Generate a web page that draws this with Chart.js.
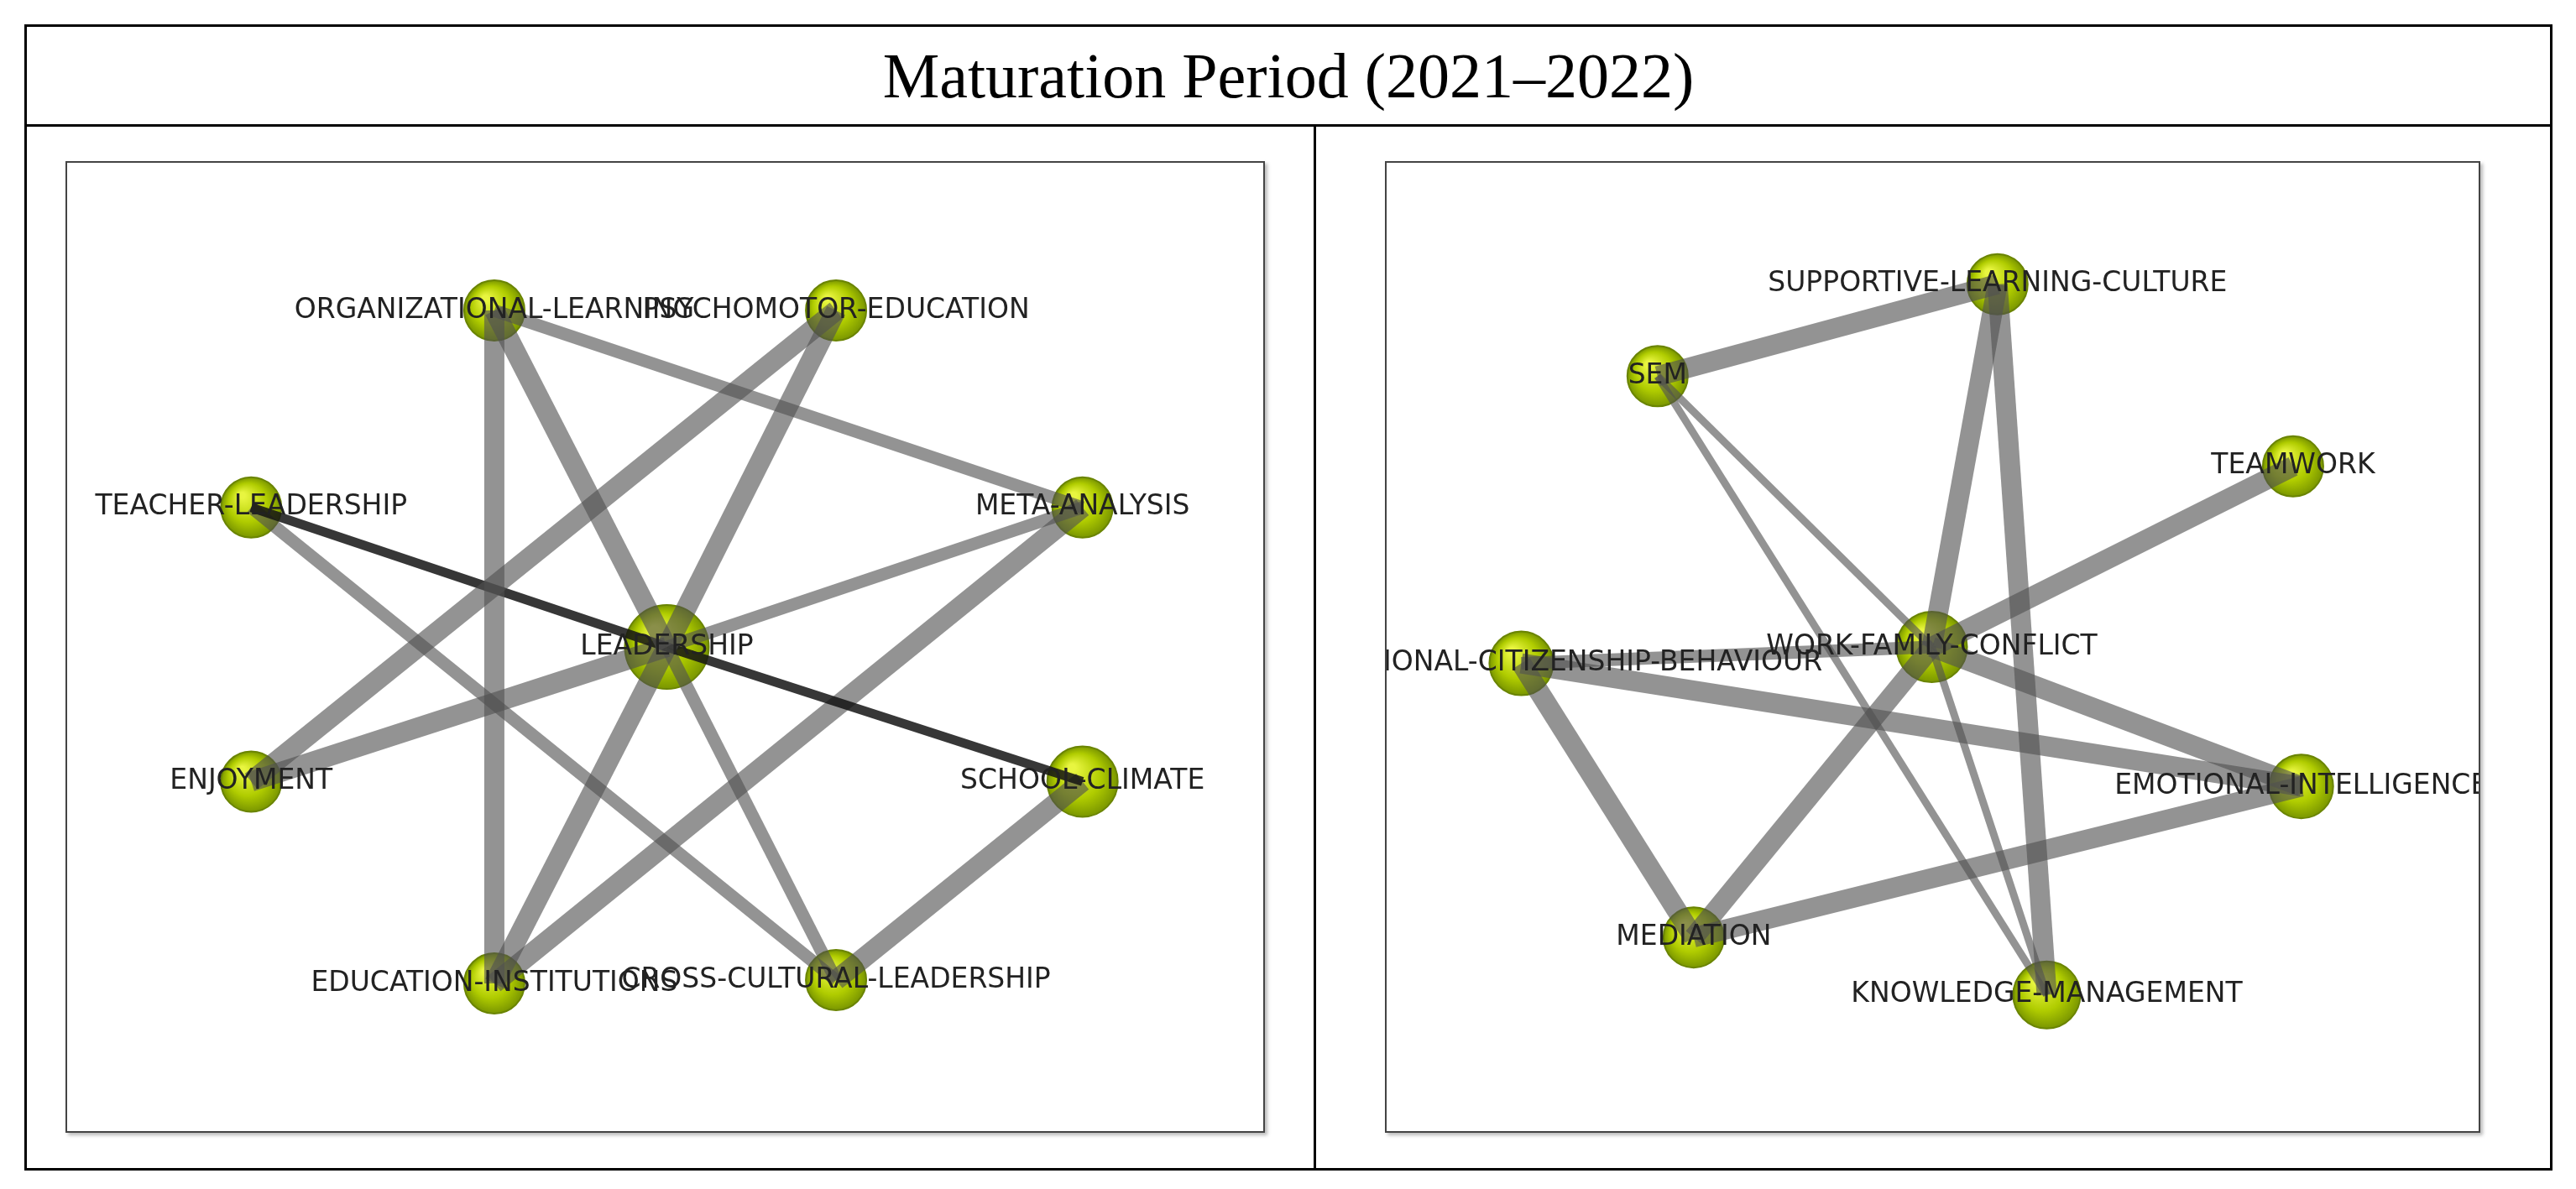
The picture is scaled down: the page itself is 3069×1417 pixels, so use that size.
<!DOCTYPE html>
<html>
<head>
<meta charset="utf-8">
<script src="https://cdn.jsdelivr.net/npm/chart.js@4.4.0/dist/chart.umd.min.js"></script>
<style>
  body { margin:0; background:#fff; width:3069px; height:1417px; position:relative; overflow:hidden; }
  #outer { position:absolute; left:29px; top:29px; width:3006px; height:1360px; border:3px solid #000; }
  #title { position:absolute; left:0; top:0; width:100%; height:116px; border-bottom:3px solid #000;
           font-family:"Liberation Serif", serif; font-size:76px; text-align:center; line-height:116px; }
  #divider { position:absolute; left:1533px; top:119px; width:3px; height:1241px; background:#000; }
  .frame { position:absolute; border:2px solid #444; box-shadow:3px 3px 4px #bbb; background:#fff; }
</style>
</head>
<body>
<div id="outer"><div id="title">Maturation Period (2021–2022)</div><div id="divider"></div></div>
<div class="frame" style="left:78px;top:192px;width:1425px;height:1154px"><canvas id="left" width="1425" height="1154"></canvas></div>
<div class="frame" style="left:1650px;top:192px;width:1301px;height:1154px"><canvas id="right" width="1301" height="1154"></canvas></div>
<script>
// left network: node names, positions, sizes
const leftNodes = ["ORGANIZATIONAL-LEARNING","PSYCHOMOTOR-EDUCATION","TEACHER-LEADERSHIP","META-ANALYSIS","LEADERSHIP","ENJOYMENT","SCHOOL-CLIMATE","EDUCATION-INSTITUTIONS","CROSS-CULTURAL-LEADERSHIP"];
const leftX = [300,508,152,658,405,152,658,300,508];
const leftY = [188,188,308,308,393,475,475,598,596];
const leftR = [36,36,36,36,50,36,42,36,36];
// edges: [from, to, weight(1 thin,2 medium,3 thick), dark]
const leftEdges = [[0,7,3,0],[0,4,3,0],[0,3,2,0],[1,5,3,0],[1,4,3,0],[4,7,3,0],[2,4,1,1],[4,6,1,1],[2,8,2,0],[5,4,3,0],[3,4,2,0],[3,7,3,0],[4,8,2,0],[6,8,3,0]];

const rightNodes = ["SUPPORTIVE-LEARNING-CULTURE","SEM","TEAMWORK","WORK-FAMILY-CONFLICT","ORGANIZATIONAL-CITIZENSHIP-BEHAVIOUR","EMOTIONAL-INTELLIGENCE","MEDIATION","KNOWLEDGE-MANAGEMENT"];
const rightX = [1215,1008,1395,1175,925,1400,1030,1245];
const rightY = [172,228,283,393,403,478,570,605];
const rightR = [36,36,36,42,38,38,36,40];
const rightEdges = [[1,0,3,0],[1,3,1,0],[1,7,1,0],[0,3,3,0],[0,7,3,0],[2,3,3,0],[3,4,2,0],[3,5,3,0],[3,6,3,0],[3,7,1,0],[4,5,3,0],[4,6,3,0],[6,5,3,0]];

const edgeWidth = {1: 9, 2: 15, 3: 24};

const labelPlugin = {
  id: "labels",
  afterDatasetsDraw(chart, args, opts) {
    const ctx = chart.ctx, xs = chart.scales.x, ys = chart.scales.y;
    ctx.save();
    ctx.beginPath();
    ctx.rect(0, 0, chart.width, chart.height);
    ctx.clip();
    ctx.font = "33px 'DejaVu Sans'";
    ctx.fillStyle = "#222";
    ctx.textAlign = "center";
    ctx.textBaseline = "middle";
    opts.names.forEach((n, i) => ctx.fillText(n, xs.getPixelForValue(opts.xv[i]), ys.getPixelForValue(opts.yv[i])));
    ctx.restore();
  }
};

function nodeStyle(ctx) {
  const el = ctx.element;
  if (!el || el.x === undefined) return "#a6c400";
  const r = ctx.chart.data.datasets[ctx.datasetIndex].pointRadius[ctx.dataIndex];
  const g = ctx.chart.ctx.createRadialGradient(el.x - r * 0.3, el.y - r * 0.4, r * 0.1, el.x, el.y, r);
  g.addColorStop(0, "#e8f540");
  g.addColorStop(0.6, "#b0cc00");
  g.addColorStop(1, "#7a9600");
  return g;
}

function makeNet(id, names, xv, yv, rv, edges, xmin, xmax) {
  const datasets = edges.map(e => ({
    type: "line",
    data: [{x: xv[e[0]], y: yv[e[0]]}, {x: xv[e[1]], y: yv[e[1]]}],
    borderColor: e[3] ? "rgba(20,20,20,0.85)" : "rgba(80,80,80,0.62)",
    borderWidth: e[3] ? 11 : edgeWidth[e[2]],
    pointRadius: 0,
    borderCapStyle: "butt"
  }));
  datasets.push({
    type: "scatter",
    data: xv.map((x, i) => ({x: x, y: yv[i]})),
    pointRadius: rv,
    backgroundColor: nodeStyle,
    borderColor: "#6a8400",
    borderWidth: 2
  });
  new Chart(document.getElementById(id), {
    type: "scatter",
    data: {datasets: datasets},
    options: {
      responsive: false,
      animation: false,
      layout: {padding: 0, autoPadding: false},
      plugins: {legend: {display: false}, tooltip: {enabled: false},
                labels: {names: names, xv: xv, yv: yv}},
      scales: {
        x: {type: "linear", min: xmin, max: xmax, display: false},
        y: {type: "linear", min: 98, max: 688, reverse: true, display: false}
      }
    },
    plugins: [labelPlugin]
  });
}

makeNet("left", leftNodes, leftX, leftY, leftR, leftEdges, 40, 768);
makeNet("right", rightNodes, rightX, rightY, rightR, rightEdges, 843, 1508);
</script>
</body>
</html>
